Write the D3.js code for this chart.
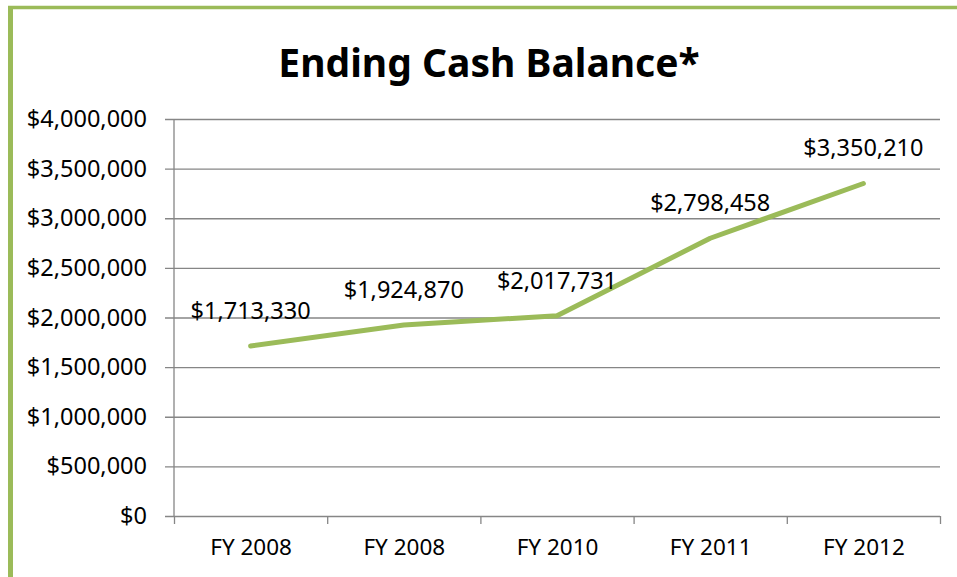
<!DOCTYPE html>
<html>
<head>
<meta charset="utf-8">
<script src="https://cdn.jsdelivr.net/npm/d3@7"></script>
<style>
  body { margin: 0; background: #fff; }
  svg { display: block; font-family: "Noto Sans", "Open Sans", sans-serif; }
</style>
</head>
<body>
<svg width="957" height="577"></svg>
<script>
const categories = ["FY 2008", "FY 2008", "FY 2010", "FY 2011", "FY 2012"];
const cashBalance = [1713330, 1924870, 2017731, 2798458, 3350210];
const yTicks = [0, 500000, 1000000, 1500000, 2000000, 2500000, 3000000, 3500000, 4000000];
const title = "Ending Cash Balance*";

const svg = d3.select("svg");
const margin = { top: 119, right: 17, bottom: 61, left: 174 };
const width = +svg.attr("width") - margin.left - margin.right;
const height = +svg.attr("height") - margin.top - margin.bottom;
const green = "#9bbb59";
const grid = "#868686";
const fmt = d3.format("$,.0f");

// frame (green border on top and left)
svg.append("line")
  .attr("x1", 8).attr("x2", 957).attr("y1", 7.5).attr("y2", 7.5)
  .attr("stroke", green).attr("stroke-width", 3.5);
svg.append("line")
  .attr("x1", 10.5).attr("x2", 10.5).attr("y1", 6).attr("y2", 577)
  .attr("stroke", green).attr("stroke-width", 5);

svg.append("text")
  .attr("x", 489).attr("y", 77)
  .attr("text-anchor", "middle")
  .attr("font-size", 39).attr("font-weight", "bold")
  .attr("fill", "#000")
  .text(title);

const chart = svg.append("g")
  .attr("transform", `translate(${margin.left},${margin.top})`);

const x = d3.scaleLinear().domain([0, categories.length]).range([0, width]);
const y = d3.scaleLinear().domain([0, 4000000]).range([height, 0]);

// gridlines + y axis
const yAxis = chart.append("g")
  .call(d3.axisLeft(y).tickValues(yTicks).tickFormat(fmt).tickSize(9).tickPadding(18));
yAxis.select(".domain").remove();
yAxis.selectAll(".tick line").attr("x2", width).attr("x1", -9)
  .attr("stroke", grid).attr("stroke-width", 1.3);
yAxis.selectAll(".tick text")
  .attr("font-size", 23.5).attr("font-family", "Noto Sans, sans-serif").attr("fill", "#000");

// vertical axis line
chart.append("line")
  .attr("x1", 0).attr("x2", 0).attr("y1", 0).attr("y2", height)
  .attr("stroke", grid).attr("stroke-width", 1.3);

// x axis ticks at category boundaries
const xTicks = chart.append("g")
  .attr("transform", `translate(0,${height})`)
  .call(d3.axisBottom(x).tickValues(d3.range(categories.length + 1)).tickFormat("").tickSize(8));
xTicks.select(".domain").remove();
xTicks.selectAll(".tick line").attr("stroke", grid).attr("stroke-width", 1.3);

// x axis labels at category centres
const xLabels = chart.append("g")
  .attr("transform", `translate(0,${height})`)
  .call(d3.axisBottom(x)
    .tickValues(categories.map((c, i) => i + 0.5))
    .tickFormat((d, i) => categories[i])
    .tickSize(0).tickPadding(23));
xLabels.select(".domain").remove();
xLabels.selectAll(".tick text")
  .attr("font-size", 22.5).attr("font-family", "Noto Sans, sans-serif").attr("fill", "#000");

// line
const line = d3.line()
  .x((d, i) => x(i + 0.5))
  .y(d => y(d));

chart.append("path")
  .datum(cashBalance)
  .attr("fill", "none")
  .attr("stroke", green)
  .attr("stroke-width", 5)
  .attr("stroke-linecap", "round")
  .attr("stroke-linejoin", "round")
  .attr("d", line);

// data labels
chart.selectAll("text.label")
  .data(cashBalance)
  .enter().append("text")
  .attr("class", "label")
  .attr("x", (d, i) => x(i + 0.5))
  .attr("y", d => y(d) - 27)
  .attr("text-anchor", "middle")
  .attr("font-size", 23.5)
  .attr("fill", "#000")
  .text(d => fmt(d));
</script>
</body>
</html>
